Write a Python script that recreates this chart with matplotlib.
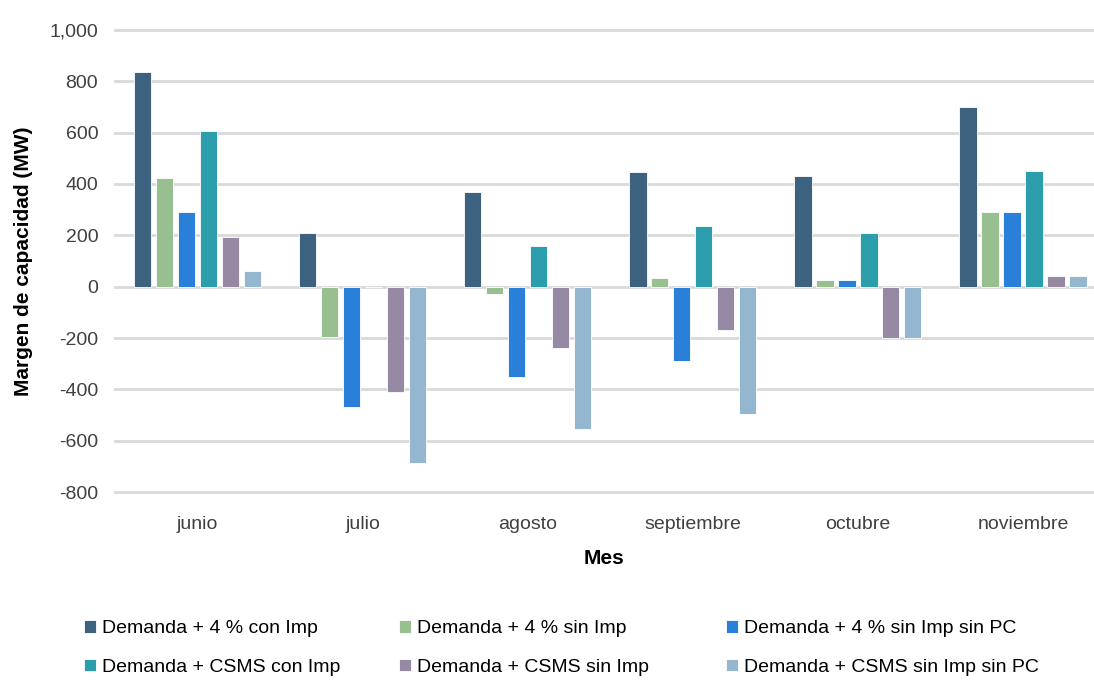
import matplotlib
matplotlib.use("Agg")
import matplotlib.pyplot as plt
import numpy as np

plt.rcParams["font.family"] = ["Liberation Sans", "DejaVu Sans"]

meses = ["junio", "julio", "agosto", "septiembre", "octubre", "noviembre"]
series = [
    "Demanda + 4 % con Imp",
    "Demanda + 4 % sin Imp",
    "Demanda + 4 % sin Imp sin PC",
    "Demanda + CSMS con Imp",
    "Demanda + CSMS sin Imp",
    "Demanda + CSMS sin Imp sin PC",
]
d4_con = [835, 210, 370, 445, 430, 700]
d4_sin = [425, -195, -30, 35, 25, 290]
d4_sin_pc = [290, -470, -350, -290, 25, 290]
csms_con = [605, 0, 160, 235, 210, 450]
csms_sin = [195, -410, -240, -170, -200, 40]
csms_sin_pc = [60, -685, -555, -495, -200, 40]
valores = [d4_con, d4_sin, d4_sin_pc, csms_con, csms_sin, csms_sin_pc]
colores = ["#3d6280", "#97bf8f", "#2a7fd8", "#2b9dab", "#9589a3", "#94b7cf"]

fig = plt.figure(figsize=(10.94, 6.81), dpi=100)
ax = fig.add_axes([0.105, 0.2775, 0.895, 0.6785])

x = np.arange(len(meses))
step = 0.133
w = 0.105
barras = []
for i, (vals, c, lab) in enumerate(zip(valores, colores, series)):
    b = ax.bar(x + (i - 2.5) * step, vals, w, color=c, label=lab,
               edgecolor="white", linewidth=0.6, zorder=3)
    barras.append(b)

ax.set_ylim(-800, 1000)
ax.set_yticks(range(-800, 1001, 200))
ax.yaxis.set_major_formatter(matplotlib.ticker.FuncFormatter(lambda v, p: f"{int(v):,}"))
ax.set_xlim(-0.5, 5.43)
ax.set_xticks(x)
ax.set_xticklabels(meses)
ax.grid(axis="y", color="#d9d9d9", linewidth=2, zorder=0)
for gl in ax.get_ygridlines():
    gl.set_clip_on(False)
for s in ax.spines.values():
    s.set_visible(False)
ax.tick_params(length=0, labelsize=14, colors="#404040")
ax.tick_params(axis="x", pad=17)
ax.tick_params(axis="y", pad=12)
ax.set_ylabel("Margen de capacidad (MW)", fontsize=15, fontweight="bold", labelpad=12)
ax.set_xlabel("Mes", fontsize=15, fontweight="bold", labelpad=12)

# three legend columns, filled row by row
col_x = [0.077, 0.365, 0.664]
for j in range(3):
    hs = [barras[j], barras[j + 3]]
    ls = [series[j], series[j + 3]]
    fig.legend(hs, ls, loc="upper left", bbox_to_anchor=(col_x[j], 0.089),
               frameon=False, fontsize=14, handlelength=0.6, handleheight=0.6,
               handletextpad=0.3, labelspacing=1.1, borderaxespad=0, borderpad=0)

fig.savefig("out.png", dpi=100)
